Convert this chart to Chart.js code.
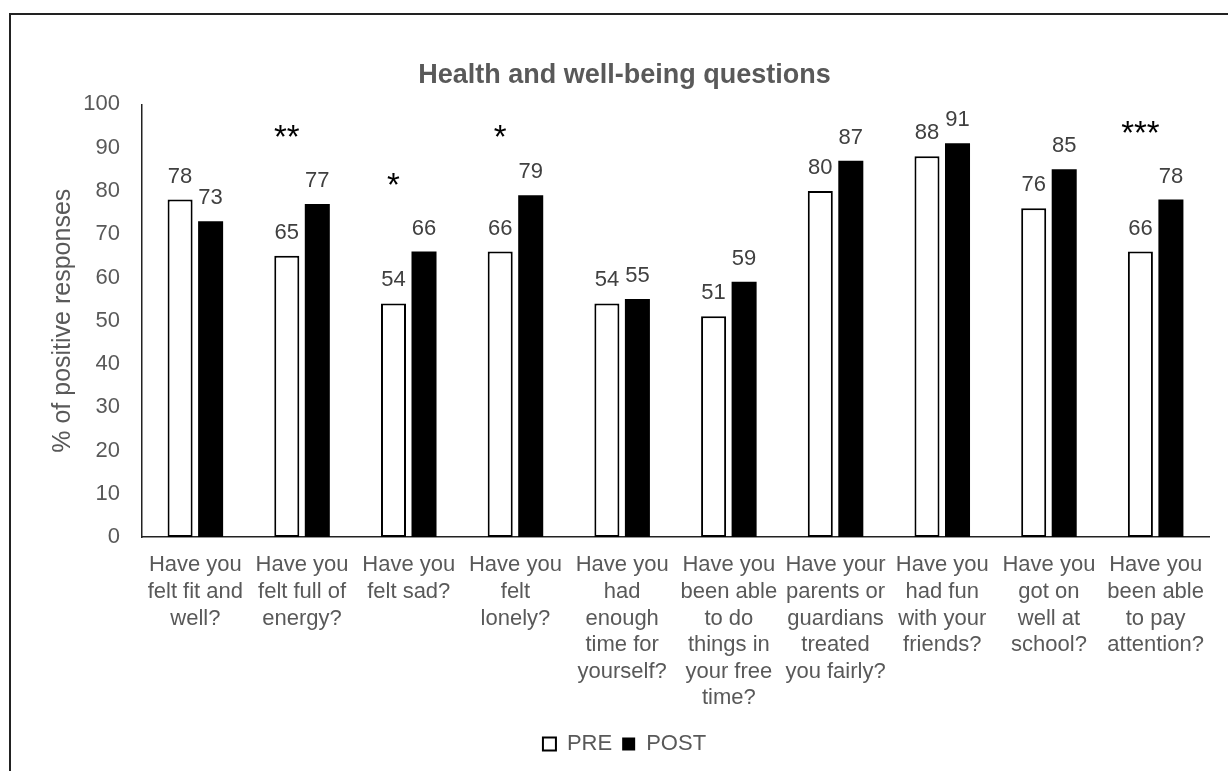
<!DOCTYPE html>
<html>
<head>
<meta charset="utf-8">
<script src="https://cdn.jsdelivr.net/npm/chart.js@4/dist/chart.umd.min.js"></script>
<style>
  html, body { margin: 0; padding: 0; background: #fff; overflow: hidden; }
  #frame { position: absolute; left: 9px; top: 13px; width: 1400px; height: 900px; border: 2px solid #222; box-sizing: border-box; }
  #wrap { position: absolute; left: 0; top: 0; width: 1228px; height: 771px; }
</style>
</head>
<body>
<div id="frame"></div>
<div id="wrap"><canvas id="chart"></canvas></div>
<script>
// questions (x labels, already wrapped like the original)
const questions = [
  ["Have you", "felt fit and", "well?"],
  ["Have you", "felt full of", "energy?"],
  ["Have you", "felt sad?"],
  ["Have you", "felt", "lonely?"],
  ["Have you", "had", "enough", "time for", "yourself?"],
  ["Have you", "been able", "to do", "things in", "your free", "time?"],
  ["Have your", "parents or", "guardians", "treated", "you fairly?"],
  ["Have you", "had fun", "with your", "friends?"],
  ["Have you", "got on", "well at", "school?"],
  ["Have you", "been able", "to pay", "attention?"]
];

const preValues = [78, 65, 54, 66, 54, 51, 80, 88, 76, 66];
const postValues = [73, 77, 66, 79, 55, 59, 87, 91, 85, 78];

// significance marks: category index, text, height (in % units)
const starIndex = [1, 2, 3, 9];
const starText = ["**", "*", "*", "***"];
const starValue = [94, 83, 94, 95];

const yTicks = [0, 10, 20, 30, 40, 50, 60, 70, 80, 90, 100];

const grey = "#595959";
const fontName = "'Liberation Sans', Arial, sans-serif";

// value labels above bars
const valueLabels = {
  id: "valueLabels",
  afterDatasetsDraw(chart) {
    const ctx = chart.ctx;
    ctx.save();
    ctx.font = "22px " + fontName;
    ctx.fillStyle = "#404040";
    ctx.textAlign = "center";
    ctx.textBaseline = "bottom";
    chart.data.datasets.forEach((ds, di) => {
      chart.getDatasetMeta(di).data.forEach((bar, i) => {
        ctx.fillText(ds.data[i], bar.x, bar.y - 12);
      });
    });
    ctx.restore();
  }
};

// asterisks
const stars = {
  id: "stars",
  afterDatasetsDraw(chart) {
    const ctx = chart.ctx;
    const yScale = chart.scales.y;
    const preBars = chart.getDatasetMeta(0).data;
    ctx.save();
    ctx.font = "33px " + fontName;
    ctx.fillStyle = "#000";
    ctx.textAlign = "center";
    ctx.textBaseline = "alphabetic";
    for (let i = 0; i < starIndex.length; i++) {
      const x = preBars[starIndex[i]].x;
      const y = yScale.getPixelForValue(starValue[i]);
      ctx.fillText(starText[i], x, y + 18);
    }
    ctx.restore();
  }
};

new Chart(document.getElementById("chart"), {
  type: "bar",
  data: {
    labels: questions,
    datasets: [
      {
        label: "PRE",
        data: preValues,
        backgroundColor: "#ffffff",
        borderColor: "#000000",
        borderWidth: 2,
        borderSkipped: false,
        categoryPercentage: 0.572,
        barPercentage: 0.82
      },
      {
        label: "POST",
        data: postValues,
        backgroundColor: "#000000",
        borderColor: "#000000",
        borderWidth: 0,
        categoryPercentage: 0.572,
        barPercentage: 0.82
      }
    ]
  },
  options: {
    responsive: true,
    maintainAspectRatio: false,
    animation: false,
    layout: { padding: { top: 59, left: 40, right: 19, bottom: 6 } },
    plugins: {
      title: {
        display: true,
        text: "Health and well-being questions",
        color: grey,
        font: { family: fontName, size: 27, weight: "bold" },
        padding: { top: 0, bottom: 13 }
      },
      legend: {
        position: "bottom",
        labels: {
          color: grey,
          font: { family: fontName, size: 22 },
          boxWidth: 13,
          boxHeight: 13,
          padding: 10
        }
      },
      tooltip: { enabled: false }
    },
    scales: {
      x: {
        grid: { display: false, drawTicks: false },
        border: { display: true, color: "#222", width: 1.5 },
        ticks: {
          color: grey,
          font: { family: fontName, size: 22, lineHeight: 1.21 },
          padding: 15,
          autoSkip: false,
          maxRotation: 0,
          minRotation: 0
        },
        afterFit(scale) { scale.height = 186; }
      },
      y: {
        min: 0,
        max: 100,
        afterBuildTicks(scale) { scale.ticks = yTicks.map(v => ({ value: v })); },
        grid: { display: false, drawTicks: false },
        border: { display: true, color: "#222", width: 1.5 },
        ticks: {
          color: grey,
          font: { family: fontName, size: 22 },
          padding: 22
        },
        title: {
          display: true,
          text: "% of positive responses",
          color: grey,
          font: { family: fontName, size: 25 },
          padding: { top: 8, bottom: 0 }
        },
        afterFit(scale) { scale.width = 102; }
      }
    }
  },
  plugins: [valueLabels, stars]
});
</script>
</body>
</html>
